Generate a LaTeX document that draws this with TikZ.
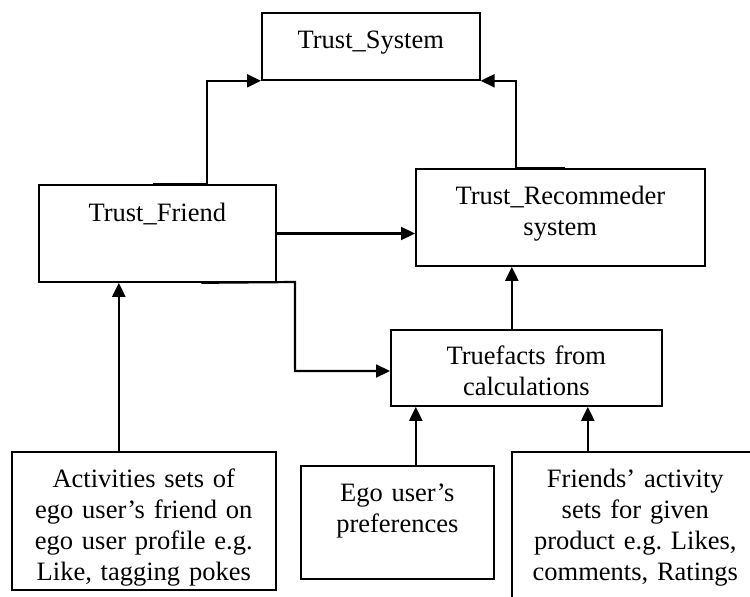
\documentclass[tikz,border=0pt]{standalone}
\usepackage{fontspec}
\setmainfont{Liberation Serif}
\usetikzlibrary{arrows.meta}
\frenchspacing
\begin{document}
\begin{tikzpicture}[x=1pt,y=-1pt,
        box/.style={draw=black, line width=1.6pt, inner sep=0pt, align=center, anchor=base west,
            font=\fontsize{26.5}{31}\selectfont},
        arr/.style={draw=black, line width=2.2pt, -{Triangle[length=14pt,width=13pt]}}]
    \clip (0,0) rectangle (750,597);
    % boxes
    \node[box, text width=218pt, text height=35pt, text depth=32pt] (sys) at (261,48) {Trust\_System};
    \node[box, text width=237pt, text height=36pt, text depth=61pt] (friend) at (38,221) {Trust\_Friend};
    \node[box, text width=289pt, text height=35pt, text depth=62pt] (rec) at (415,204) {Trust\_Recommeder\\system};
    \node[box, text width=271pt, text height=34pt, text depth=42pt] (facts) at (390,364) {Truefacts from\\calculations};
    \node[box, text width=264pt, text height=35pt, text depth=103pt] (act) at (11,487)
        {Activities sets of\\ego user’s friend on\\ego user profile e.g.\\Like, tagging pokes};
    \node[box, text width=193pt, text height=35pt, text depth=78pt] (ego) at (300,501) {Ego user’s\\preferences};
    \node[box, text width=247pt, text height=35pt, text depth=130pt] (frd) at (511,487)
        {Friends’ activity\\sets for given\\product e.g. Likes,\\comments, Ratings};
    % connectors
    \coordinate (bend) at (295,282);
    \draw[arr] ([xshift=-4.5pt]friend.north) -- ([xshift=49.5pt]friend.north) |- (sys.south west);
    \draw[arr] ([xshift=4.5pt]rec.north) -- ([xshift=-44.5pt]rec.north) |- (sys.south east);
    \draw[arr] (friend.east) -- (friend.east -| rec.west);
    \draw[arr] ([xshift=44pt]friend.south) -- (bend) |- ([yshift=-3pt]facts.west);
    \draw[arr] ([xshift=-14.5pt]facts.north) -- ([xshift=-14.5pt]facts.north |- rec.south);
    \draw[arr] ([xshift=-25pt]act.north) -- ([xshift=-25pt]act.north |- friend.south);
    \draw[arr] ([xshift=18.5pt]ego.north) -- ([xshift=18.5pt]ego.north |- facts.south);
    \draw[arr] ([xshift=-47.5pt]frd.north) -- ([xshift=-47.5pt]frd.north |- facts.south);
\end{tikzpicture}
\end{document}
